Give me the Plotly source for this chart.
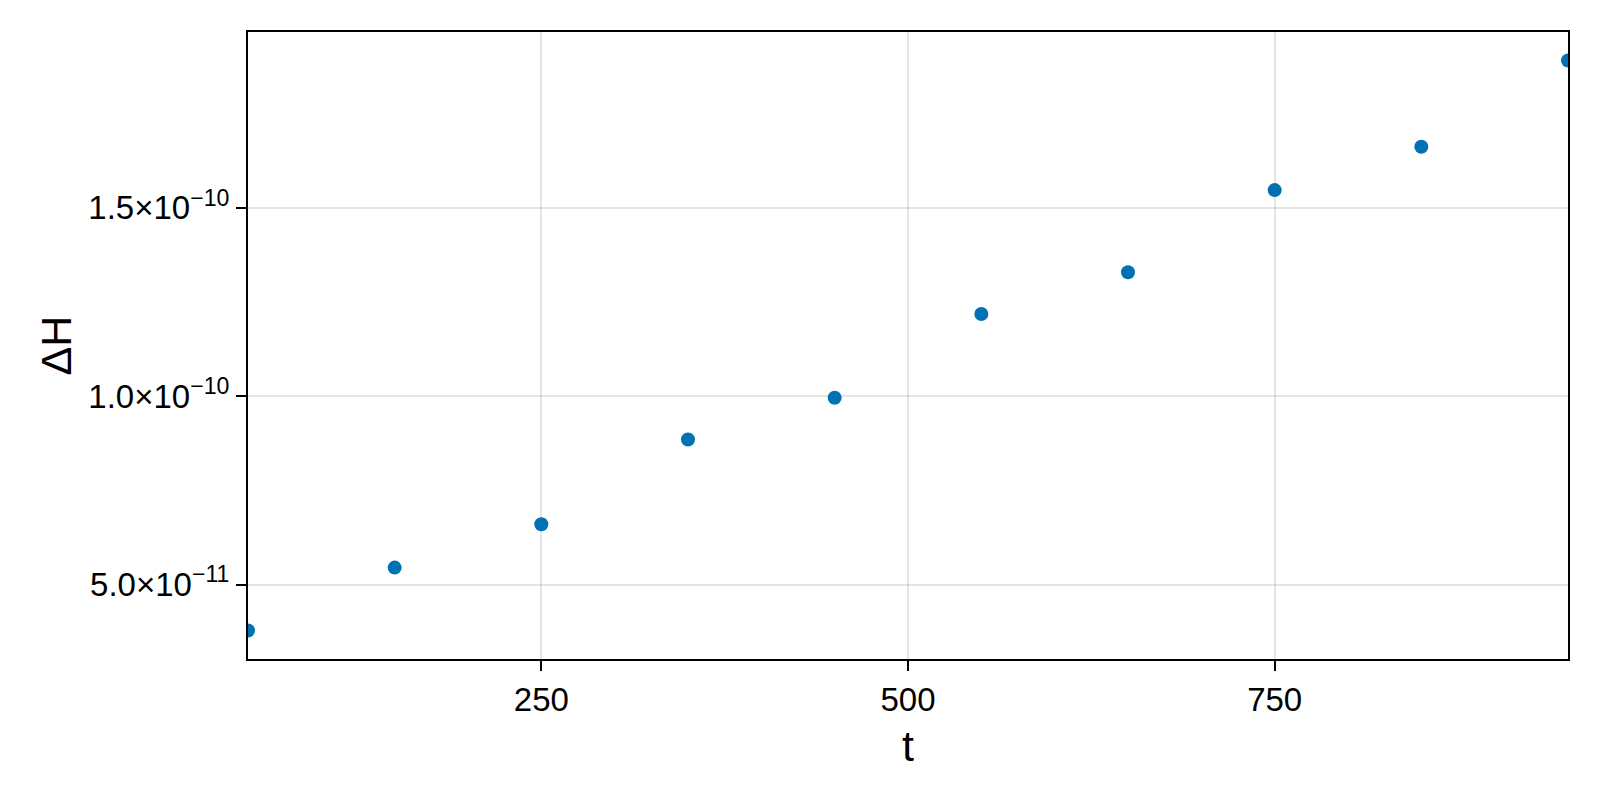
import plotly.graph_objects as go

# time samples and energy drift
t = [50, 150, 250, 350, 450, 550, 650, 750, 850, 950]
dH = [3.78e-11, 5.45e-11, 6.60e-11, 8.85e-11, 9.96e-11,
      1.218e-10, 1.329e-10, 1.547e-10, 1.662e-10, 1.891e-10]

y_tickvals = [5.0e-11, 1.0e-10, 1.5e-10]
y_ticktext = ["5.0×10<sup>−11</sup>", "1.0×10<sup>−10</sup>", "1.5×10<sup>−10</sup>"]
x_tickvals = [250, 500, 750]

# makie-like limits: tight in x, 5% padding in y
span = max(dH) - min(dH)
y_range = [min(dH) - 0.05 * span, max(dH) + 0.05 * span]

fnt = "Liberation Sans, Arial, sans-serif"

fig = go.Figure()
fig.add_trace(go.Scatter(
    x=t, y=dH, mode="markers",
    marker=dict(color="#0072B2", size=14, line=dict(width=0)),
    showlegend=False,
))

# page body has an 8px margin, so the figure is a bit smaller than the window
fig.update_layout(
    width=1592, height=792,
    margin={"l": 240, "r": 32, "t": 24, "b": 141},
    paper_bgcolor="white", plot_bgcolor="white",
    font=dict(family=fnt, color="black"),
)
fig.update_xaxes(
    range=[50, 950], tickvals=x_tickvals, automargin=False,
    showgrid=True, gridcolor="rgba(0,0,0,0.1)", gridwidth=2,
    showline=True, linecolor="black", linewidth=2, mirror=True,
    ticks="outside", ticklen=10, tickwidth=2, tickcolor="black",
    tickfont=dict(size=33, family=fnt),
    title=dict(text="t", font=dict(size=43, family=fnt), standoff=14),
    zeroline=False,
)
fig.update_yaxes(
    range=y_range, tickvals=y_tickvals, ticktext=y_ticktext, automargin=False,
    showgrid=True, gridcolor="rgba(0,0,0,0.1)", gridwidth=2,
    showline=True, linecolor="black", linewidth=2, mirror=True,
    ticks="outside", ticklen=10, tickwidth=2, tickcolor="black",
    tickfont=dict(size=33, family=fnt),
    title=dict(text="ΔH", font=dict(size=43, family=fnt), standoff=3),
    zeroline=False,
)

fig.write_html("out.html")
